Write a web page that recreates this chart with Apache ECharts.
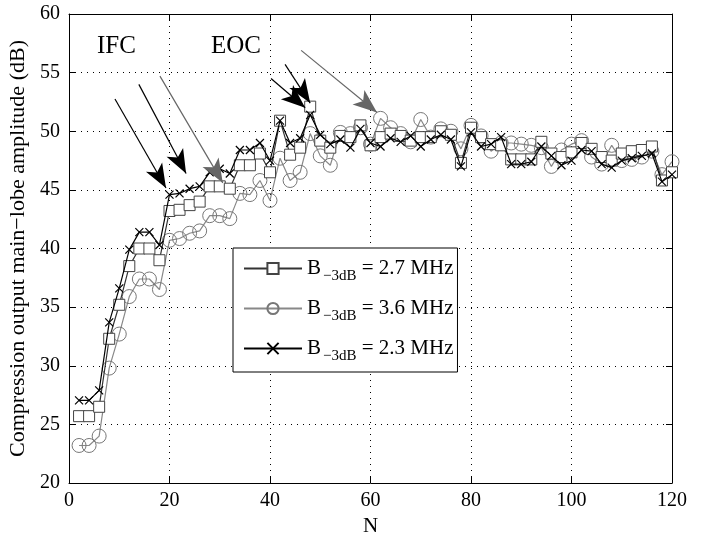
<!DOCTYPE html>
<html>
<head>
<meta charset="utf-8">
<script src="https://cdn.jsdelivr.net/npm/echarts@6/dist/echarts.min.js"></script>
<style>html,body{margin:0;padding:0;background:#fff}#c{width:714px;height:535px}</style>
</head>
<body>
<div id="c"></div>
<script>
var N = [2,4,6,8,10,12,14,16,18,20,22,24,26,28,30,32,34,36,38,40,42,44,46,48,50,52,54,56,58,60,62,64,66,68,70,72,74,76,78,80,82,84,86,88,90,92,94,96,98,100,102,104,106,108,110,112,114,116,118,120];
var b27 = [25.7,25.7,26.5,32.3,35.2,38.5,40.0,40.0,39.0,43.2,43.3,43.7,44.0,45.3,45.3,45.1,47.1,47.1,48.1,46.5,50.9,48.0,48.6,52.1,49.2,48.6,49.6,49.5,50.5,48.8,49.5,49.8,49.6,49.2,49.5,49.5,50.0,49.7,47.3,50.3,49.5,48.9,48.8,47.6,47.6,47.6,49.1,48.1,47.8,48.2,49.0,48.5,47.8,47.5,48.1,48.3,48.4,48.7,45.8,46.5];
var b36 = [23.2,23.2,24.0,29.8,32.7,35.9,37.4,37.4,36.5,40.7,40.85,41.3,41.5,42.8,42.8,42.55,44.7,44.6,45.8,44.1,47.7,45.8,46.5,49.8,47.9,47.1,49.9,49.8,50.3,48.9,51.1,50.3,49.8,49.1,51.0,49.5,50.2,50.0,48.5,50.5,49.6,48.3,49.0,49.0,48.9,48.8,48.6,47.0,48.4,48.9,49.2,47.8,47.2,48.8,47.5,47.6,47.8,48.3,46.3,47.4];
var b23 = [27.05,27.05,27.9,33.7,36.6,39.9,41.4,41.4,40.3,44.6,44.7,45.1,45.3,46.5,46.8,46.4,48.4,48.4,49.0,47.5,50.9,49.0,49.4,51.4,49.7,48.9,49.3,48.6,50.2,49.0,48.7,49.4,49.1,49.6,48.7,49.3,49.7,49.3,47.0,49.9,48.7,48.9,49.5,47.2,47.2,47.4,48.7,47.9,47.1,47.5,48.4,48.3,47.2,46.9,47.5,47.7,47.9,48.1,45.7,46.3];
var seriesNames = ['2.7 MHz','3.6 MHz','2.3 MHz'];
var xTicks = [0,20,40,60,80,100,120];
var yTicks = [20,25,30,35,40,45,50,55,60];
// annotation arrows: [startN, startY, endN, endY]
var arrowsBlack = [[9.15,52.75,19.3,45.16],[13.9,54.0,23.3,46.4],[40.2,54.5,47.0,52.0],[43.0,55.7,48.0,52.4]];
var arrowsGray = [[18.1,54.7,30.6,45.6],[46.2,56.9,61.3,51.6]];

function pairs(ys){ return N.map(function(n,i){return [n, ys[i]];}); }
function arrowData(list){ return list.map(function(a){return [{coord:[a[0],a[1]]},{coord:[a[2],a[3]]}];}); }

var font = 'Liberation Serif';
var chart = echarts.init(document.getElementById('c'));
var axisCommon = {
  axisLine:{show:true, onZero:false, lineStyle:{color:'#000', width:1}},
  axisTick:{show:true, inside:true, length:6, lineStyle:{color:'#000'}},
};
var crossPath = 'path://M0,0L10,10M10,0L0,10';
chart.setOption({
  animation:false,
  backgroundColor:'#fff',
  grid:{left:69, right:42, top:14, bottom:52, show:false, outerBoundsMode:'none', containLabel:false},
  xAxis:[
    Object.assign({type:'value', min:0, max:120, interval:20, position:'bottom',
      name:'N', nameLocation:'middle', nameGap:31,
      nameTextStyle:{fontFamily:font, fontSize:21, color:'#000'},
      axisLabel:{fontFamily:font, fontSize:20, color:'#000', margin:8,
        formatter:function(v){return xTicks.indexOf(v)>=0 ? String(v) : '';}},
      splitLine:{show:true, lineStyle:{color:'#000', type:[1,5], width:1}}
    }, axisCommon),
    Object.assign({type:'value', min:0, max:120, interval:20, position:'top',
      axisLabel:{show:false}, splitLine:{show:false}}, axisCommon)
  ],
  yAxis:[
    Object.assign({type:'value', min:20, max:60, interval:5, position:'left',
      name:'Compression output main\u2212lobe amplitude (dB)', nameLocation:'middle', nameGap:36,
      nameTextStyle:{fontFamily:font, fontSize:22, color:'#000'},
      axisLabel:{fontFamily:font, fontSize:20, color:'#000', margin:9,
        formatter:function(v){return yTicks.indexOf(v)>=0 ? String(v) : '';}},
      splitLine:{show:true, lineStyle:{color:'#000', type:[1,5], width:1}}
    }, axisCommon),
    Object.assign({type:'value', min:20, max:60, interval:5, position:'right',
      axisLabel:{show:false}, splitLine:{show:false}}, axisCommon)
  ],
  legend:{
    orient:'vertical', left:233, top:248,
    backgroundColor:'#fff', borderColor:'#000', borderWidth:1,
    padding:[10,4,8,10], itemGap:14, itemWidth:58, itemHeight:14,
    data: seriesNames,
    formatter:function(name){ return '{b|B}{s|\u22123dB}{b| = ' + name + '}'; },
    textStyle:{
      rich:{
        b:{fontFamily:font, fontSize:21, color:'#000', padding:[0,0,0,0]},
        s:{fontFamily:font, fontSize:15, color:'#000', padding:[16,0,0,2]}
      }
    }
  },
  graphic:[
    {type:'text', left:97, top:34, style:{text:'IFC', fontFamily:font, fontSize:25, fill:'#000'}},
    {type:'text', left:211, top:34, style:{text:'EOC', fontFamily:font, fontSize:25, fill:'#000'}}
  ],
  series:[
    {name:seriesNames[0], type:'line', data:pairs(b27), symbol:'rect', symbolSize:11,
      itemStyle:{color:'#fff', borderColor:'#444', borderWidth:1},
      lineStyle:{color:'#333', width:1.2}, z:3},
    {name:seriesNames[1], type:'line', data:pairs(b36), symbol:'circle', symbolSize:14,
      itemStyle:{color:'rgba(255,255,255,0)', borderColor:'#777', borderWidth:1},
      lineStyle:{color:'#888', width:1.2}, z:2},
    {name:seriesNames[2], type:'line', data:pairs(b23), symbol:crossPath, symbolSize:8,
      itemStyle:{color:'none', borderColor:'#000', borderWidth:1.2},
      lineStyle:{color:'#000', width:1.2}, z:4,
      markLine:{silent:true, symbol:['none','arrow'], symbolSize:[14,24],
        label:{show:false}, lineStyle:{color:'#000', type:'solid', width:1.2},
        data: arrowData(arrowsBlack)}},
    {name:'arrowsGray', type:'line', data:[], z:5,
      markLine:{silent:true, symbol:['none','arrow'], symbolSize:[14,24],
        label:{show:false}, lineStyle:{color:'#666', type:'solid', width:1.2},
        data: arrowData(arrowsGray)}}
  ]
});
</script>
</body>
</html>
